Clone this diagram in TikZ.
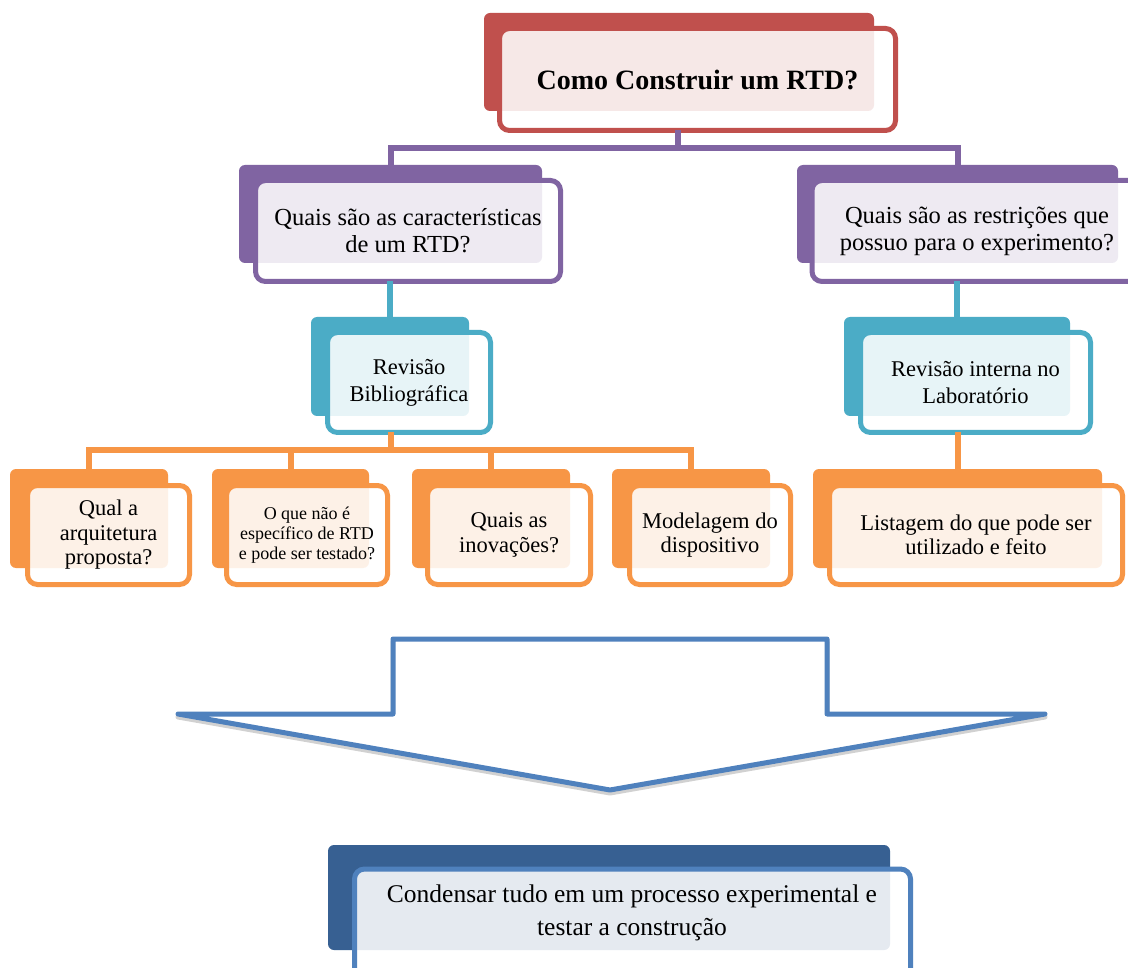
\documentclass[tikz,border=0pt]{standalone}
\usepackage{fontspec}
\setmainfont{Liberation Serif}
\definecolor{cred}{HTML}{C0504D}
\definecolor{cpur}{HTML}{8064A2}
\definecolor{cteal}{HTML}{4BACC6}
\definecolor{corg}{HTML}{F79646}
\definecolor{cdblue}{HTML}{376092}
\definecolor{cblue}{HTML}{4F81BD}
\tikzset{
  backbox/.style={rectangle, rounded corners=6pt, fill=#1, draw=none, inner sep=0pt, outer sep=0pt},
  frontbox/.style={rectangle, rounded corners=10pt, draw=#1, line width=5pt, fill=white, fill opacity=0.87, text opacity=1, inner sep=0pt, outer sep=0pt, align=center, text=black},
  conn/.style={line width=6pt, draw=#1, line join=miter},
  fttl/.style={font=\fontsize{28}{32}\selectfont\bfseries},
  fpur/.style={font=\fontsize{24.5}{27}\selectfont},
  fteal/.style={font=\fontsize{22.5}{27}\selectfont},
  forg/.style={font=\fontsize{22.5}{24.5}\selectfont},
  fsmall/.style={font=\fontsize{18}{20}\selectfont},
  ffin/.style={font=\fontsize{25.5}{33}\selectfont},
}
\begin{document}
\begin{tikzpicture}[x=1pt,y=-1pt]
\clip (0,0) rectangle (1128,968);
\fill[white] (0,0) rectangle (1128,968);

% top
\node[backbox=cred, minimum width=390pt, minimum height=98pt] (topB) at (679,62) {};
\node[frontbox=cred, fttl, minimum width=396pt, minimum height=102pt] (top) at (697.5,79.5) {Como Construir um RTD?};

% purple level
\node[backbox=cpur, minimum width=303pt, minimum height=98pt] (q1B) at (390.5,214) {};
\node[frontbox=cpur, fpur, minimum width=305pt, minimum height=101pt] (q1) at (408,231) {Quais são as características\\de um RTD?};
\node[backbox=cpur, minimum width=321pt, minimum height=98pt] (q2B) at (957.5,214) {};
\node[frontbox=cpur, fpur, minimum width=330pt, minimum height=101pt] (q2) at (977,231) {Quais são as restrições que\\possuo para o experimento?};

% teal level
\node[backbox=cteal, minimum width=158pt, minimum height=99pt] (r1B) at (390,366.5) {};
\node[frontbox=cteal, fteal, minimum width=163pt, minimum height=100pt] (r1) at (409,382.5) {Revisão\\Bibliográfica};
\node[backbox=cteal, minimum width=226pt, minimum height=99pt] (r2B) at (957,366.5) {};
\node[frontbox=cteal, fteal, minimum width=230pt, minimum height=100pt] (r2) at (975.5,382.5) {Revisão interna no\\Laboratório};

% orange level
\node[backbox=corg, minimum width=158pt, minimum height=99pt] (o1B) at (89,518.5) {};
\node[frontbox=corg, forg, minimum width=162pt, minimum height=99pt] (o1) at (108.5,535) {Qual a\\arquitetura\\proposta?};
\node[backbox=corg, minimum width=157pt, minimum height=99pt] (o2B) at (290.5,518.5) {};
\node[frontbox=corg, fsmall, minimum width=161pt, minimum height=99pt] (o2) at (307,535) {O que não é\\específico de RTD\\e pode ser testado?};
\node[backbox=corg, minimum width=158pt, minimum height=99pt] (o3B) at (491,518.5) {};
\node[frontbox=corg, forg, minimum width=163pt, minimum height=99pt] (o3) at (509,535) {Quais as\\inovações?};
\node[backbox=corg, minimum width=158pt, minimum height=99pt] (o4B) at (691,518.5) {};
\node[frontbox=corg, forg, minimum width=161pt, minimum height=99pt] (o4) at (710,535) {Modelagem do\\dispositivo};
\node[backbox=corg, minimum width=289pt, minimum height=99pt] (o5B) at (957.5,518.5) {};
\node[frontbox=corg, forg, minimum width=293pt, minimum height=99pt] (o5) at (976,535) {Listagem do que pode ser\\utilizado e feito};

% connectors
\coordinate (busP) at (678,148);
\draw[conn=cpur] (top.south -| busP) -- (busP);
\draw[conn=cpur] (q1B.north) |- (busP) -| (q2B.north);
\draw[conn=cteal] (q1.south -| r1B.north) -- (r1B.north);
\draw[conn=cteal] (q2.south -| r2B.north) -- (r2B.north);
\coordinate (busO) at (391,450);
\draw[conn=corg] (r1.south -| busO) -- (busO);
\draw[conn=corg] (o1B.north) |- (busO) -| (o4B.north);
\draw[conn=corg] (o2B.north) -- (o2B.north |- busO);
\draw[conn=corg] (o3B.north) -- (o3B.north |- busO);
\draw[conn=corg] (r2.south -| o5B.north) -- (o5B.north);

% big arrow
\draw[line width=5pt, black!18, line join=round, shift={(0,3)}]
  (178,714) -- (393,714) -- (393,639) -- (827,639) -- (827,714) -- (1045,714) -- (610,790) -- cycle;
\draw[line width=5pt, cblue, fill=white, line join=round]
  (178,714) -- (393,714) -- (393,639) -- (827,639) -- (827,714) -- (1045,714) -- (610,790) -- cycle;

% final box
\node[backbox=cdblue, minimum width=562pt, minimum height=105pt] (finB) at (609,897.5) {};
\node[frontbox=cblue, minimum width=556pt, minimum height=114pt] (fin) at (632.5,926) {};
\node[ffin, align=center, inner sep=0pt] (finT) at (632,913) {Condensar tudo em um processo experimental e\\testar a construção};
\end{tikzpicture}
\end{document}
